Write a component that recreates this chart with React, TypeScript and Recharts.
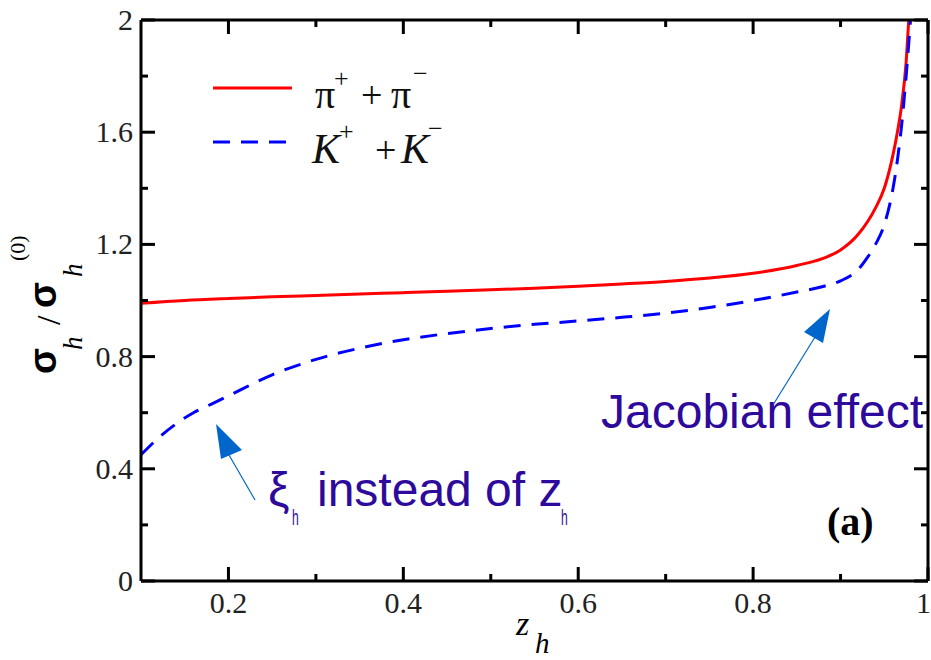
import React from 'react'
import { LineChart, Line, XAxis, YAxis, Legend } from 'recharts'

// z_h grid and ratio sigma_h / sigma_h^(0)
const pionZ = [0.1, 0.15, 0.2, 0.25, 0.3, 0.35, 0.4, 0.45, 0.5, 0.55, 0.6, 0.65, 0.7, 0.75, 0.8, 0.85, 0.88, 0.9, 0.92, 0.94, 0.95, 0.96, 0.965, 0.97, 0.975, 0.978]
const pionRatio = [0.99, 1.0, 1.007, 1.013, 1.018, 1.023, 1.028, 1.033, 1.038, 1.044, 1.051, 1.059, 1.068, 1.08, 1.097, 1.125, 1.15, 1.18, 1.235, 1.33, 1.4, 1.52, 1.6, 1.7, 1.85, 2.0]

const kaonZ = [0.1, 0.12, 0.14, 0.16, 0.18, 0.2, 0.25, 0.3, 0.35, 0.4, 0.45, 0.5, 0.55, 0.6, 0.65, 0.7, 0.75, 0.8, 0.85, 0.88, 0.9, 0.92, 0.93, 0.94, 0.95, 0.96, 0.965, 0.97, 0.975, 0.98]
const kaonRatio = [0.45, 0.51, 0.56, 0.6, 0.63, 0.66, 0.735, 0.79, 0.83, 0.86, 0.882, 0.9, 0.915, 0.927, 0.94, 0.955, 0.975, 1.0, 1.03, 1.05, 1.07, 1.11, 1.15, 1.2, 1.27, 1.4, 1.5, 1.63, 1.8, 2.0]

const xTicks = [0.1, 0.2, 0.3, 0.4, 0.5, 0.6, 0.7, 0.8, 0.9, 1.0]
const yTicks = [0, 0.2, 0.4, 0.6, 0.8, 1.0, 1.2, 1.4, 1.6, 1.8, 2.0]

const pionData = pionZ.map((z, i) => ({ z, v: pionRatio[i] }))
const kaonData = kaonZ.map((z, i) => ({ z, v: kaonRatio[i] }))

const SERIF = '"Liberation Serif", "Times New Roman", serif'
const SANS = '"Liberation Sans", Arial, sans-serif'
const NOTE = '#2d0a9b'
const ARROW = '#0066cc'

const isMajorX = (v: number) => Math.round(v * 10) % 2 === 0
const isMajorY = (v: number) => Math.round(v * 10) % 4 === 0
const fmt = (v: number) => (Math.abs(v - Math.round(v)) < 1e-6 ? String(Math.round(v)) : v.toFixed(1))

function BottomTick(props: any) {
    const { x, y, payload } = props
    const v = payload.value
    if (Math.abs(v - 0.1) < 1e-6) return null
    const major = isMajorX(v)
    const last = Math.abs(v - 1) < 1e-6
    return (
        <g>
            <path d={`M${x},${y}V${y - (major ? 14 : 7)}`} stroke="#000" strokeWidth={3} fill="none" />
            {major && (
                <text x={last ? x + 3 : x} y={y + 32} textAnchor={last ? 'end' : 'middle'} fontFamily={SERIF} fontSize={30} fill="#222">{fmt(v)}</text>
            )}
        </g>
    )
}

function TopTick(props: any) {
    const { x, y, payload } = props
    const v = payload.value
    if (Math.abs(v - 0.1) < 1e-6) return null
    const major = isMajorX(v)
    return <path d={`M${x},${y}V${y + (major ? 14 : 7)}`} stroke="#000" strokeWidth={3} fill="none" />
}

function LeftTick(props: any) {
    const { x, y, payload } = props
    const v = payload.value
    const major = isMajorY(v)
    return (
        <g>
            <path d={`M${x},${y}H${x + (major ? 14 : 7)}`} stroke="#000" strokeWidth={3} fill="none" />
            {major && (
                <text x={x - 8} y={y + 10} textAnchor="end" fontFamily={SERIF} fontSize={30} fill="#222">{fmt(v)}</text>
            )}
        </g>
    )
}

function RightTick(props: any) {
    const { x, y, payload } = props
    const v = payload.value
    const major = isMajorY(v)
    return <path d={`M${x},${y}H${x - (major ? 14 : 7)}`} stroke="#000" strokeWidth={3} fill="none" />
}

function LegendBox() {
    return (
        <svg width={260} height={120} style={{ overflow: 'visible' }}>
            <g transform="translate(-213,-60)">
                <line x1={213} x2={292} y1={88} y2={88} stroke="#ff0000" strokeWidth={3} />
                <text fontFamily={SERIF} fill="#111">
                    <tspan x={315} y={108} fontSize={40}>π</tspan>
                    <tspan x={334} y={87} fontSize={26}>+</tspan>
                    <tspan x={361} y={108} fontSize={38}>+</tspan>
                    <tspan x={391} y={108} fontSize={40}>π</tspan>
                    <tspan x={413} y={82} fontSize={26}>−</tspan>
                </text>
                <line x1={213} x2={292} y1={142} y2={142} stroke="#0000ff" strokeWidth={3} strokeDasharray="17 11" />
                <text fontFamily={SERIF} fill="#111">
                    <tspan x={312} y={163} fontSize={42} fontStyle="italic">K</tspan>
                    <tspan x={339} y={140} fontSize={26}>+</tspan>
                    <tspan x={375} y={163} fontSize={38}>+</tspan>
                    <tspan x={401} y={163} fontSize={42} fontStyle="italic">K</tspan>
                    <tspan x={428} y={137} fontSize={26}>−</tspan>
                </text>
            </g>
        </svg>
    )
}

function Notes() {
    return (
        <svg width={931} height={660} style={{ position: 'absolute', left: 0, top: 0, pointerEvents: 'none' }}>
            {/* y axis title */}
            <g transform="translate(56,374) rotate(-90)">
                <text x={0} y={0} fontFamily={SANS} fontWeight="bold" fontSize={38} fill="#000">σ</text>
                <text x={24} y={26} fontFamily={SERIF} fontStyle="italic" fontSize={27} fill="#000">h</text>
                <text x={49} y={4} fontFamily={SERIF} fontSize={34} fill="#000">/</text>
                <text x={66} y={0} fontFamily={SANS} fontWeight="bold" fontSize={38} fill="#000">σ</text>
                <text x={97} y={26} fontFamily={SERIF} fontStyle="italic" fontSize={27} fill="#000">h</text>
                <text x={113} y={-31} fontFamily={SERIF} fontSize={22} fill="#000">(0)</text>
            </g>
            {/* x axis title */}
            <text x={516} y={635} fontFamily={SERIF} fontStyle="italic" fontSize={34} fill="#000">z</text>
            <text x={535} y={653} fontFamily={SERIF} fontStyle="italic" fontSize={29} fill="#000">h</text>

            {/* Jacobian effect note */}
            <line x1={773} y1={405} x2={815} y2={337} stroke={ARROW} strokeWidth={1.2} />
            <polygon points="830,309 804,332 823,343" fill={ARROW} />
            <text x={601} y={428} fontFamily={SANS} fontSize={48} fill={NOTE}>Jacobian effect</text>

            {/* xi_h note */}
            <line x1={255} y1={500} x2={229} y2={455} stroke={ARROW} strokeWidth={1.2} />
            <polygon points="216,424 221,459 242,450" fill={ARROW} />
            <text x={268} y={506} fontFamily={SANS} fontSize={48} fill={NOTE}>ξ</text>
            <text transform="translate(292,525) scale(0.55,1)" fontFamily={SANS} fontSize={22} fill={NOTE}>h</text>
            <text x={317} y={506} fontFamily={SANS} fontSize={48} fill={NOTE}>instead of z</text>
            <text transform="translate(561,525) scale(0.55,1)" fontFamily={SANS} fontSize={22} fill={NOTE}>h</text>

            {/* panel label */}
            <text x={827} y={535} fontFamily={SERIF} fontWeight="bold" fontSize={40} fill="#000">(a)</text>
        </svg>
    )
}

export default function App() {
    return (
        <div style={{ position: 'absolute', left: 0, top: 0, width: 931, height: 660, background: '#fff' }}>
            <LineChart width={931} height={660} margin={{ top: 19, right: 2, bottom: 0, left: 0 }}>
                <XAxis
                    xAxisId="bottom"
                    dataKey="z"
                    type="number"
                    domain={[0.1, 1]}
                    allowDataOverflow
                    ticks={xTicks}
                    interval={0}
                    height={79}
                    tickSize={0}
                    tickMargin={0}
                    tickLine={false}
                    tick={BottomTick}
                    axisLine={{ stroke: '#000', strokeWidth: 3 }}
                />
                <XAxis
                    xAxisId="top"
                    orientation="top"
                    dataKey="z"
                    type="number"
                    domain={[0.1, 1]}
                    allowDataOverflow
                    ticks={xTicks}
                    interval={0}
                    height={1}
                    tickSize={0}
                    tickMargin={0}
                    tickLine={false}
                    tick={TopTick}
                    axisLine={{ stroke: '#000', strokeWidth: 3 }}
                />
                <YAxis
                    yAxisId="left"
                    type="number"
                    domain={[0, 2]}
                    allowDataOverflow
                    ticks={yTicks}
                    interval={0}
                    width={141}
                    tickSize={0}
                    tickMargin={0}
                    tickLine={false}
                    tick={LeftTick}
                    axisLine={{ stroke: '#000', strokeWidth: 3 }}
                />
                <YAxis
                    yAxisId="right"
                    orientation="right"
                    type="number"
                    domain={[0, 2]}
                    allowDataOverflow
                    ticks={yTicks}
                    interval={0}
                    width={1}
                    tickSize={0}
                    tickMargin={0}
                    tickLine={false}
                    tick={RightTick}
                    axisLine={{ stroke: '#000', strokeWidth: 3 }}
                />
                <Legend
                    layout="horizontal"
                    verticalAlign="middle"
                    align="center"
                    wrapperStyle={{ left: 213, top: 60, width: 260, height: 120 }}
                    content={() => <LegendBox />}
                />
                <Line
                    xAxisId="bottom"
                    yAxisId="left"
                    data={pionData}
                    dataKey="v"
                    name="π+ + π−"
                    type="monotone"
                    stroke="#ff0000"
                    strokeWidth={3}
                    dot={false}
                    isAnimationActive={false}
                />
                <Line
                    xAxisId="bottom"
                    yAxisId="left"
                    data={kaonData}
                    dataKey="v"
                    name="K+ + K−"
                    type="monotone"
                    stroke="#0000ff"
                    strokeWidth={3}
                    strokeDasharray="17 11"
                    dot={false}
                    isAnimationActive={false}
                />
            </LineChart>
            <Notes />
        </div>
    )
}
